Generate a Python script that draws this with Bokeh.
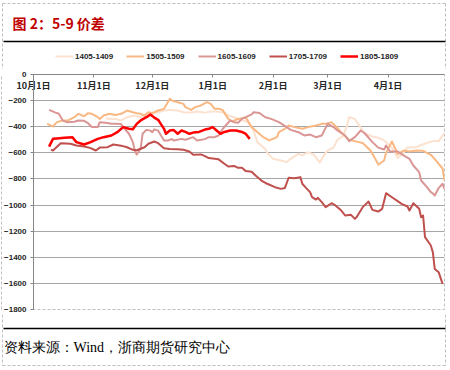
from bokeh.plotting import figure
from bokeh.layouts import column
from bokeh.models import Range1d, FixedTicker, Legend, LegendItem, LinearAxis
from bokeh.core.properties import value
from bokeh.embed import file_html
from bokeh.resources import INLINE

# ---------------- data ----------------
title_text = "图 2：5-9 价差"
source_text = "资料来源：Wind，浙商期货研究中心"

# x = days counted from 10月1日
tick_days = [0, 31, 61, 92, 123, 151, 182]
tick_labels = ["10月1日", "11月1日", "12月1日", "1月1日", "2月1日", "3月1日", "4月1日"]
y_ticks = [0, -200, -400, -600, -800, -1000, -1200, -1400, -1600, -1800]

series_names = ["1405-1409", "1505-1509", "1605-1609", "1705-1709", "1805-1809"]

days_1405 = [37, 39, 42, 45, 48, 52, 55, 58, 62, 64, 67, 70, 74, 77, 81, 84, 88, 91, 94, 98, 100,
             103, 106, 110, 113, 115, 119, 120, 123, 127, 130, 132, 136, 138, 141, 144, 147, 149,
             151, 154, 156, 159, 161, 162, 165, 168, 170, 174, 177, 180, 184, 187, 190, 192, 196,
             199, 202, 205, 208, 210, 211]
vals_1405 = [-335, -340, -340, -352, -327, -314, -327, -301, -296, -289, -276, -271, -276, -289,
             -292, -284, -292, -284, -284, -292, -314, -327, -345, -365, -429, -520, -570, -600,
             -646, -659, -671, -646, -608, -620, -595, -615, -675, -620, -582, -560, -500, -470,
             -390, -327, -340, -410, -450, -475, -485, -505, -560, -640, -600, -557, -560, -540,
             -525, -510, -510, -470, -450]

days_1505 = [7, 10, 12, 15, 18, 21, 23, 26, 28, 30, 33, 34, 36, 39, 42, 45, 48, 51, 53, 55, 57,
             59, 61, 64, 67, 70, 71, 74, 77, 78, 81, 83, 86, 89, 91, 93, 95, 97, 100, 102, 105,
             109, 112, 115, 118, 121, 125, 126, 129, 131, 134, 138, 141, 145, 148, 150, 153, 156,
             159, 162, 167, 169, 173, 175, 177, 180, 181, 184, 186, 187, 190, 193, 197, 200, 204,
             207, 210, 211]
vals_1505 = [-378, -398, -365, -352, -350, -327, -301, -320, -296, -301, -327, -340, -314, -301,
             -310, -301, -276, -289, -296, -301, -314, -289, -296, -276, -263, -186, -199, -212,
             -225, -250, -271, -250, -237, -212, -225, -263, -263, -271, -340, -360, -340, -330,
             -403, -442, -480, -505, -480, -442, -416, -391, -403, -416, -403, -391, -378, -378,
             -365, -410, -460, -500, -518, -525, -582, -633, -690, -659, -600, -513, -575, -610,
             -582, -590, -582, -585, -615, -665, -720, -812]

days_1605 = [8, 11, 13, 15, 17, 21, 23, 26, 28, 30, 33, 34, 37, 40, 42, 45, 46, 49, 51, 52, 53,
             55, 56, 58, 60, 61, 62, 64, 67, 69, 71, 72, 76, 78, 82, 84, 88, 90, 93, 95, 97, 99,
             101, 103, 105, 107, 109, 112, 113, 116, 119, 122, 126, 130, 132, 136, 139, 142, 145,
             148, 151, 154, 156, 160, 162, 165, 168, 170, 174, 177, 180, 181, 183, 187, 190, 193,
             195, 198, 199, 202, 204, 205, 206, 208, 210, 211]
vals_1605 = [-271, -290, -301, -352, -365, -362, -352, -355, -373, -403, -403, -365, -370, -378,
             -378, -380, -403, -454, -518, -582, -613, -569, -454, -424, -430, -442, -420, -430,
             -505, -505, -495, -505, -493, -500, -480, -505, -495, -480, -480, -467, -420, -385,
             -352, -365, -370, -340, -327, -306, -289, -295, -327, -340, -365, -403, -424, -442,
             -467, -460, -480, -467, -378, -403, -429, -467, -510, -480, -429, -450, -518, -560,
             -575, -544, -590, -590, -620, -646, -697, -748, -812, -863, -901, -910, -927, -870,
             -837, -876]

days_1705 = [9, 10, 14, 19, 22, 26, 29, 32, 34, 38, 41, 45, 48, 51, 53, 57, 59, 62, 64, 67, 70,
             74, 77, 80, 82, 86, 88, 90, 93, 95, 98, 100, 103, 105, 107, 109, 112, 114, 117, 120,
             124, 127, 129, 131, 134, 137, 138, 140, 142, 143, 145, 146, 148, 150, 153, 155, 158,
             160, 163, 165, 166, 169, 172, 174, 177, 179, 181, 184, 186, 189, 192, 193, 195, 198,
             199, 200, 201, 204, 205, 206, 208, 210]
vals_1705 = [-575, -582, -526, -531, -544, -552, -562, -582, -560, -557, -536, -545, -557, -577,
             -580, -557, -530, -513, -526, -565, -570, -572, -577, -590, -615, -612, -625, -640,
             -645, -650, -684, -705, -700, -715, -715, -740, -745, -774, -812, -837, -863, -876,
             -870, -791, -795, -786, -837, -870, -901, -940, -958, -945, -978, -1016, -986, -1003,
             -1042, -1080, -1075, -1106, -1090, -1016, -973, -1037, -1050, -1029, -909, -940, -960,
             -991, -1011, -1042, -986, -1029, -1093, -1080, -1246, -1310, -1361, -1489, -1514,
             -1604]

days_1805 = [8, 10, 12, 16, 20, 22, 26, 29, 33, 36, 40, 43, 46, 49, 51, 53, 55, 58, 60, 62, 64,
             65, 67, 68, 70, 72, 74, 76, 78, 80, 82, 85, 88, 90, 92, 94, 96, 98, 101, 104, 107,
             109, 111]
vals_1805 = [-552, -493, -490, -485, -480, -518, -536, -520, -493, -480, -467, -442, -403, -416,
             -420, -378, -352, -327, -306, -330, -347, -370, -416, -454, -429, -426, -454, -429,
             -440, -454, -445, -440, -422, -416, -403, -429, -454, -440, -429, -429, -440, -455,
             -493]

series_days = [days_1405, days_1505, days_1605, days_1705, days_1805]
series_vals = [vals_1405, vals_1505, vals_1605, vals_1705, vals_1805]
series_colors = ["#FCE1CF", "#F9B882", "#D99694", "#C0504D", "#FF0000"]
series_widths = [2, 2, 2, 2, 2.5]

W = 450
BORDER = "#BFBFBF"


def deco_figure(h):
    f = figure(width=W, height=h, output_backend="svg", toolbar_location=None,
               x_range=Range1d(0, W), y_range=Range1d(h, 0),
               x_axis_location=None, y_axis_location=None,
               min_border=0, min_border_left=0, min_border_right=0,
               min_border_top=0, min_border_bottom=0)
    f.frame_align = False
    f.grid.visible = False
    f.outline_line_color = None
    f.background_fill_color = "white"
    f.border_fill_color = "white"
    return f


# ---------------- header: title, rule, legend ----------------
TOP_H = 69
top = deco_figure(TOP_H)
top.segment(x0=[2, 2, 445], y0=[3, 3, 3], x1=[445, 2, 445], y1=[3, TOP_H, TOP_H],
            line_color=BORDER, line_width=1, line_dash="3 2")
top.text(x=[12], y=[22], text=[title_text], text_font=value("Noto Sans CJK SC"),
         text_font_size="14px", text_font_style="bold", text_color="#C00000",
         text_baseline="middle", text_align="left")
top.segment(x0=[3], y0=[41], x1=[445], y1=[41], line_color="black", line_width=1.5)

# legend swatches come from line renderers parked outside the visible range
legend_renderers = []
for c, w in zip(series_colors, series_widths):
    legend_renderers.append(top.line(x=[-20, -10], y=[-20, -20], line_color=c, line_width=w))
legend = Legend(items=[LegendItem(label=n, renderers=[r])
                       for n, r in zip(series_names, legend_renderers)],
                orientation="horizontal", location=(55, TOP_H - 61),
                glyph_width=18, glyph_height=10, label_standoff=2, spacing=13,
                padding=0, margin=0, border_line_color=None, background_fill_alpha=0,
                label_text_font="Liberation Sans", label_text_font_size="8px",
                label_text_font_style="bold", label_text_color="#262626",
                label_height=10)
top.add_layout(legend)

# ---------------- main chart ----------------
MAIN_H = 5 + 235 + 5
p = figure(width=W, height=MAIN_H, output_backend="svg", toolbar_location=None,
           x_range=Range1d(0, 211), y_range=Range1d(-1800, 0),
           x_axis_location="above",
           min_border_left=33, min_border_right=6, min_border_top=5, min_border_bottom=5)
p.frame_align = False
p.outline_line_color = BORDER
p.outline_line_dash = "3 2"
p.background_fill_color = "white"
p.border_fill_color = "white"

xa = p.xaxis[0]
xa.ticker = FixedTicker(ticks=tick_days)
xa.major_label_overrides = {d: l for d, l in zip(tick_days, tick_labels)}
xa.major_label_standoff = -17
xa.major_tick_out = 0
xa.major_tick_in = 3
xa.minor_tick_line_color = None
xa.axis_line_color = "#868686"
xa.major_tick_line_color = "#868686"
xa.major_label_text_font = "Noto Sans CJK SC"
xa.major_label_text_font_size = "9px"
xa.major_label_text_font_style = "bold"
xa.major_label_text_color = "#262626"

ya = p.yaxis[0]
ya.ticker = FixedTicker(ticks=y_ticks)
ya.major_tick_out = 3
ya.major_tick_in = 0
ya.minor_tick_line_color = None
ya.major_label_standoff = 4
ya.axis_line_color = "#868686"
ya.major_tick_line_color = "#868686"
ya.major_label_text_font = "Liberation Sans"
ya.major_label_text_font_size = "8px"
ya.major_label_text_font_style = "bold"
ya.major_label_text_color = "#262626"

# outer dashed frame edge on the left, as an unlabeled axis outside the value axis
edge = LinearAxis(ticker=FixedTicker(ticks=[]), major_tick_line_color=None,
                  minor_tick_line_color=None, major_label_text_font_size="0px",
                  major_label_standoff=0, major_tick_out=0, major_tick_in=0,
                  axis_line_color=BORDER, axis_line_dash="3 2", axis_line_width=1)
p.add_layout(edge, "left")

p.xgrid.visible = False
p.ygrid.grid_line_color = "#A6A6A6"
p.ygrid.grid_line_width = 1

for d, v, c, w in zip(series_days, series_vals, series_colors, series_widths):
    p.line(d, v, line_color=c, line_width=w, line_join="round")

# ---------------- footer: rule, source ----------------
BOT_TOP = TOP_H + MAIN_H
BOT_H = 370 - BOT_TOP
bot = deco_figure(BOT_H)
bot.segment(x0=[2, 445, 2], y0=[0, 0, 365 - BOT_TOP], x1=[2, 445, 445],
            y1=[365 - BOT_TOP, 365 - BOT_TOP, 365 - BOT_TOP],
            line_color=BORDER, line_width=1, line_dash="3 2")
bot.segment(x0=[3], y0=[328 - BOT_TOP], x1=[445], y1=[328 - BOT_TOP],
            line_color="black", line_width=1.5)
bot.text(x=[3], y=[347 - BOT_TOP], text=[source_text], text_font=value("Liberation Serif"),
         text_font_size="14px", text_color="black",
         text_baseline="middle", text_align="left")

layout = column(top, p, bot, spacing=0)
open("out.html", "w").write(file_html(layout, INLINE))
